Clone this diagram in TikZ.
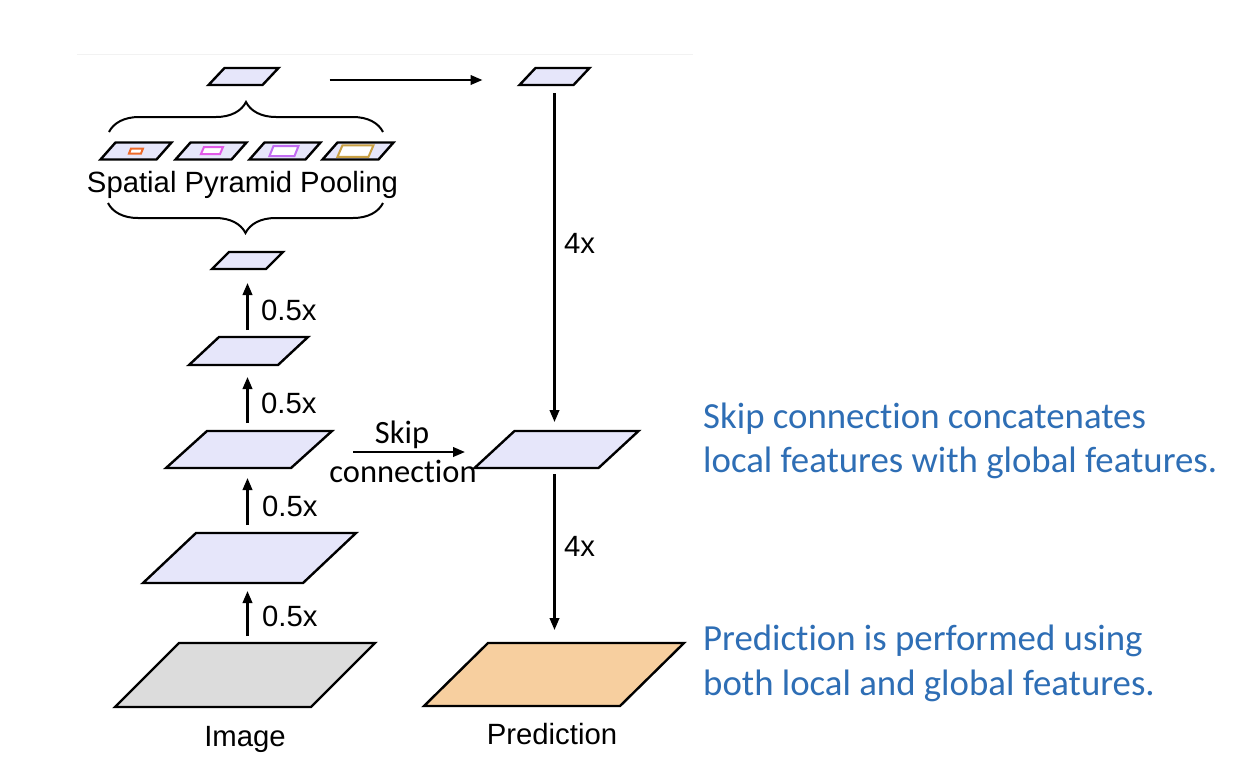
\documentclass[tikz,border=0pt]{standalone}
\usepackage{fontspec}
\setmainfont{Liberation Sans}
\newfontfamily\calfont[Ligatures=NoCommon,Contextuals=NoAlternate]{Carlito}
\usetikzlibrary{arrows.meta,decorations.pathreplacing,calc}
\newcommand\tnl{t\kern0pt }
\definecolor{lav}{HTML}{E6E6FA}
\definecolor{imggray}{HTML}{DCDCDC}
\definecolor{predor}{HTML}{F7CF9F}
\definecolor{txtblue}{HTML}{2E6EB5}
\definecolor{sppor}{HTML}{EE6A2A}
\definecolor{sppmag}{HTML}{E25BE8}
\definecolor{sppvio}{HTML}{C26CF2}
\definecolor{sppgold}{HTML}{C9A043}
\definecolor{faint}{HTML}{F2F2F2}
% name, cx, cy, w, s, h, fill
\newcommand\mypara[7]{%
  \pgfmathsetmacro\pbx{#2-(#4+#5)/2}%
  \pgfmathsetmacro\pby{#3+#6/2}%
  \pgfmathsetmacro\pw{#4+#5}%
  \filldraw[pline, fill=#7] (\pbx,\pby) -- ++(#4,0) -- ++(#5,-#6) -- ++(-#4,0) -- cycle;
  \node[pbox, minimum width=\pw pt, minimum height=#6 pt] (#1) at (#2,#3) {};
}
% cx, cy, w, s, h, colour
\newcommand\myinner[6]{%
  \pgfmathsetmacro\pbx{#1-(#3+#4)/2}%
  \pgfmathsetmacro\pby{#2+#5/2}%
  \filldraw[line width=2pt, draw=#6, fill=white] (\pbx,\pby) -- ++(#3,0) -- ++(#4,-#5) -- ++(-#3,0) -- cycle;
}
\begin{document}
\begin{tikzpicture}[x=1pt,y=-1pt,
  pline/.style={line width=2.4pt, line join=miter},
  pbox/.style={draw=none, inner sep=0pt, outer sep=0pt, rectangle},
  arr/.style={line width=2.3pt, -{Triangle[length=12pt,width=9.5pt]}},
  lab/.style={font=\fontsize{29.3}{34}\selectfont, inner sep=0pt, anchor=base west},
  clab/.style={font=\fontsize{29.3}{34}\selectfont, inner sep=0pt, anchor=base},
  skiplab/.style={font=\calfont\fontsize{32.5}{39}\selectfont, inner sep=0pt, anchor=base},
  blue/.style={font=\calfont\fontsize{36.8}{44}\selectfont, text=txtblue, inner sep=0pt, anchor=base west},
  brc/.style={line width=2pt, decorate, decoration={brace, amplitude=30pt}}
]
\useasboundingbox[fill=white] (0,0) rectangle (1244,756);
\draw[faint, line width=1pt] (77,54) -- (693,54);

% left column
\mypara{img}{245}{675}{196}{64}{64}{imggray}
\mypara{fa}{249.5}{558}{160}{53}{50}{lav}
\mypara{fb}{249}{449.5}{125}{41}{37}{lav}
\mypara{fc}{248.5}{351}{89}{30}{28}{lav}
\mypara{fd}{247.5}{260.5}{54}{17}{17}{lav}
\mypara{topl}{243.5}{76.5}{54}{16}{17}{lav}
% SPP
\mypara{sa}{136}{151}{56}{15}{17}{lav}
\mypara{sb}{211}{151}{56}{15}{17}{lav}
\mypara{sc}{285}{151}{56}{15}{17}{lav}
\mypara{sd}{358}{151}{56}{15}{17}{lav}
\myinner{136}{151}{12}{2}{5}{sppor}
\myinner{212}{150.5}{19}{3}{7}{sppmag}
\myinner{284}{151}{25}{4}{10}{sppvio}
\myinner{355.5}{151}{31}{5}{11.5}{sppgold}
% right column
\mypara{topr}{554.5}{76.5}{54}{16}{17}{lav}
\mypara{mid}{556.5}{449.5}{124}{40}{37}{lav}
\mypara{pred}{554}{674.5}{196}{64}{63}{predor}

% braces
\coordinate (bra) at (109,132);
\coordinate (brb) at (383,132);
\coordinate (brc) at (383,203);
\coordinate (brd) at (108,203);
\draw[brc] (bra) -- (brb);
\draw[brc] (brc) -- (brd);
\node[clab] (spp) at (242.5,192) {Spatial Pyramid Pooling};

% up arrows (vertical line x = 247.5)
\coordinate (ax) at (247.5,0);
\draw[arr, shorten <=7pt, shorten >=8pt] (ax |- img.north) -- (ax |- fa.south);
\draw[arr, shorten <=8pt, shorten >=10pt] (ax |- fa.north) -- (ax |- fb.south);
\draw[arr, shorten <=8pt, shorten >=12pt] (ax |- fb.north) -- (ax |- fc.south);
\draw[arr, shorten <=7pt, shorten >=14pt] (ax |- fc.north) -- (ax |- fd.south);
\node[lab] (h1) at (261,320) {0.5x};
\node[lab] (h2) at (261,413) {0.5x};
\node[lab] (h3) at (262,516.5) {0.5x};
\node[lab] (h4) at (262,626.5) {0.5x};

% top arrow
\draw[arr, shorten <=51pt, shorten >=37pt] ([yshift=-3.5pt]topl.east) -- ([yshift=-3.5pt]topr.west);

% right arrows
\draw[arr, shorten <=8pt, shorten >=9pt] (topr.south) -- (topr.south |- mid.north);
\draw[arr, shorten <=6pt, shorten >=13pt] (topr.south |- mid.south) -- (topr.south |- pred.north);
\node[lab] (q1) at (564,253) {4x};
\node[lab] (q2) at (564,556) {4x};

% skip
\draw[arr, shorten <=21pt, shorten >=9.5pt] ([yshift=-2.5pt]fb.east) -- ([yshift=-2.5pt]mid.west);
\node[skiplab] (sk1) at (402,443) {Skip};
\node[skiplab] (sk2) at (403,482) {connec\tnl ion};

% labels
\node[clab] (imgl) at (245,746) {Image};
\node[clab] (predl) at (552,744) {Prediction};

% blue text
\node[blue] (t1) at (703,428) {Skip connec\tnl ion concatenates};
\node[blue] (t2) at (703,472.5) {local features with global features.};
\node[blue] (t3) at (703,650) {Predic\tnl ion is performed using};
\node[blue] (t4) at (703,695) {both local and global features.};
\end{tikzpicture}
\end{document}
